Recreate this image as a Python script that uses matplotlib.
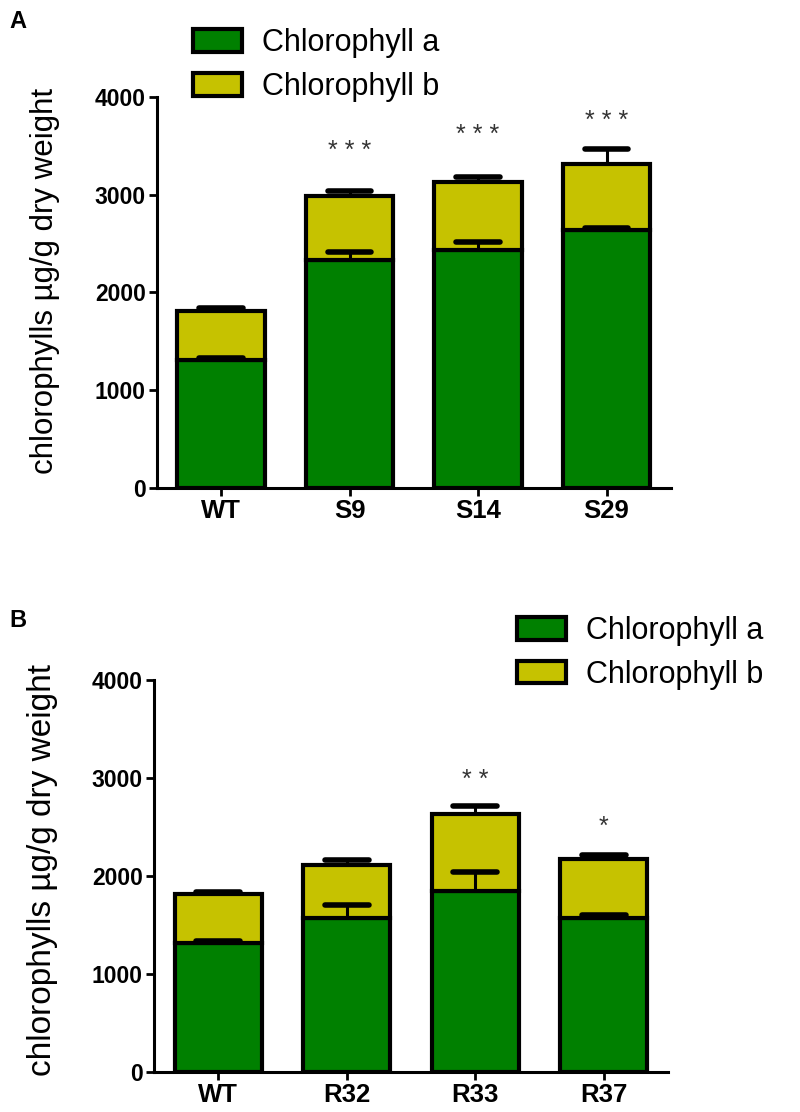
import numpy as np
import matplotlib
matplotlib.use('Agg')
import matplotlib.pyplot as plt
from matplotlib.patches import Patch

plt.rcParams['font.family'] = ['Liberation Sans', 'DejaVu Sans']

# panel A data
groups_A = ['WT', 'S9', 'S14', 'S29']
chl_a_A = [1305, 2330, 2430, 2635]
chl_a_err_A = [25, 85, 85, 25]
chl_b_A = [505, 660, 705, 680]
chl_b_err_A = [28, 45, 50, 150]
stars_A = ['', '* * *', '* * *', '* * *']
star_y_A = [0, 3520, 3680, 3830]

# panel B data
groups_B = ['WT', 'R32', 'R33', 'R37']
chl_a_B = [1313, 1570, 1845, 1570]
chl_a_err_B = [25, 135, 200, 35]
chl_b_B = [500, 540, 791, 600]
chl_b_err_B = [28, 50, 78, 48]
stars_B = ['', '', '* *', '*']
star_y_B = [0, 0, 3050, 2570]

GREEN = '#008000'
YELLOW = '#C6C200'
BAR_W = 0.68
CAP = 0.17


def draw_err(ax, x, top, err):
    ax.vlines(x, top, top + err, color='black', linewidth=2.2, zorder=5)
    ax.hlines(top + err, x - CAP, x + CAP, color='black', linewidth=4,
              capstyle='round', zorder=5)


def panel(ax, groups, chl_a, chl_a_err, chl_b, chl_b_err, stars, star_y,
          label_size, label_pos):
    x = np.arange(len(groups))
    chl_a = np.array(chl_a)
    chl_b = np.array(chl_b)
    ax.bar(x, chl_a, BAR_W, color=GREEN, edgecolor='black', linewidth=3, zorder=2)
    ax.bar(x, chl_b, BAR_W, bottom=chl_a, color=YELLOW, edgecolor='black',
           linewidth=3, zorder=2)
    for i in range(len(x)):
        draw_err(ax, x[i], chl_a[i], chl_a_err[i])
        draw_err(ax, x[i], chl_a[i] + chl_b[i], chl_b_err[i])
        if stars[i]:
            ax.annotate(stars[i], (x[i], star_y[i]), xytext=(0, -5),
                        textcoords='offset points', ha='center', va='center',
                        fontsize=18, color='#333333')
    ax.set_xlim(-0.5, len(groups) - 0.5)
    ax.set_ylim(0, 4000)
    ax.set_yticks([0, 1000, 2000, 3000, 4000])
    ax.set_xticks(x)
    ax.set_xticklabels(groups, fontsize=18.5, fontweight='bold')
    for lab in ax.get_yticklabels():
        lab.set_fontsize(16.5)
        lab.set_fontweight('bold')
    for s in ['top', 'right']:
        ax.spines[s].set_visible(False)
    for s in ['left', 'bottom']:
        ax.spines[s].set_linewidth(2.2)
    ax.tick_params(width=2, length=6, direction='out', pad=2)
    ax.set_ylabel('chlorophylls \u00b5g/g dry weight', fontsize=label_size)
    ax.yaxis.set_label_coords(*label_pos)


fig = plt.figure(figsize=(8, 11.12), dpi=100)
axA = fig.add_axes([0.196, 0.5612, 0.6425, 0.3516])
axB = fig.add_axes([0.1925, 0.036, 0.6425, 0.3525])

panel(axA, groups_A, chl_a_A, chl_a_err_A, chl_b_A, chl_b_err_A, stars_A, star_y_A,
      22.5, (-0.189, 0.53))
panel(axB, groups_B, chl_a_B, chl_a_err_B, chl_b_B, chl_b_err_B, stars_B, star_y_B,
      24, (-0.187, 0.515))

handles = [Patch(facecolor=GREEN, edgecolor='black', linewidth=3, joinstyle='round'),
           Patch(facecolor=YELLOW, edgecolor='black', linewidth=3, joinstyle='round')]
labels = ['Chlorophyll a', 'Chlorophyll b']
for xa, ya in [(0.241, 0.9746), (0.646, 0.446)]:
    fig.legend(handles, labels, loc='upper left', bbox_to_anchor=(xa, ya),
               frameon=False, fontsize=22, handlelength=1.6, handleheight=0.75,
               handletextpad=0.65, labelspacing=0.45, borderpad=0, borderaxespad=0)

fig.text(0.012, 0.981, 'A', fontsize=17, fontweight='bold', va='center')
fig.text(0.012, 0.4424, 'B', fontsize=17, fontweight='bold', va='center')

fig.savefig('out.png', dpi=100)
